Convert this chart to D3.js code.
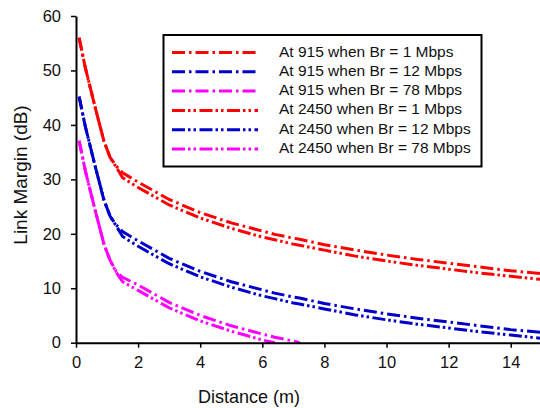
<!DOCTYPE html>
<html>
<head>
<meta charset="utf-8">
<script src="https://cdn.jsdelivr.net/npm/d3@7"></script>
<style>
  body { margin: 0; background: #fff; }
  svg { display: block; font-family: "Liberation Sans", Arial, sans-serif; }
</style>
</head>
<body>
<div id="chart"></div>
<script>
// distance samples (m)
const distance = [0.1, 0.3, 0.6, 0.9, 1.1, 1.3, 1.5, 2, 2.5, 3, 4, 5, 6, 6.4, 7, 7.2, 8, 9, 10, 11, 12, 13, 14, 15];

// link margin (dB)
const lm915br1   = [56, 50.5, 43.6, 37, 34, 32.4, 31.2, 29.5, 27.9, 26.3, 23.9, 22.0, 20.5, 19.9, 19.2, 19.0, 18.0, 17.0, 16.1, 15.3, 14.6, 13.9, 13.2, 12.7];
const lm915br12  = [45.2, 39.7, 32.8, 26.2, 23.2, 21.6, 20.4, 18.7, 17.1, 15.5, 13.1, 11.2, 9.7, 9.1, 8.4, 8.2, 7.2, 6.2, 5.3, 4.5, 3.8, 3.1, 2.4, 1.9];
const lm915br78  = [37.1, 31.6, 24.7, 18.1, 15.1, 13.0, 12.0, 10.6, 9.0, 7.4, 5.0, 3.1, 1.6, 1.0, 0.3, 0.0, null, null, null, null, null, null, null, null];
const lm2450br1  = [56, 50.5, 43.6, 37, 34, 32.2, 30.3, 28.5, 26.9, 25.3, 22.9, 21.0, 19.4, 18.9, 18.1, 17.9, 17.0, 15.9, 15.0, 14.2, 13.5, 12.8, 12.2, 11.6];
const lm2450br12 = [45.2, 39.7, 32.8, 26.2, 23.2, 21.4, 19.5, 17.7, 16.1, 14.5, 12.1, 10.2, 8.6, 8.1, 7.3, 7.1, 6.2, 5.1, 4.2, 3.4, 2.7, 2.0, 1.4, 0.8];
const lm2450br78 = [37.1, 31.6, 24.7, 18.1, 15.1, 12.9, 11.2, 9.6, 8.0, 6.4, 4.0, 2.1, 0.5, 0.0, null, null, null, null, null, null, null, null, null, null];

const xTicks = [0, 2, 4, 6, 8, 10, 12, 14];
const yTicks = [0, 10, 20, 30, 40, 50, 60];

const DASH_DOT = "13,4,2.5,4";
const DASH_DOT_DOT = "13,3,2.5,3,2.5,3.5";

const series = [
    { label: "At 915 when Br = 1 Mbps",   values: lm915br1,   color: "#ff0000", dash: DASH_DOT },
    { label: "At 915 when Br = 12 Mbps",  values: lm915br12,  color: "#0000c8", dash: DASH_DOT },
    { label: "At 915 when Br = 78 Mbps",  values: lm915br78,  color: "#ff00ff", dash: DASH_DOT },
    { label: "At 2450 when Br = 1 Mbps",  values: lm2450br1,  color: "#ff0000", dash: DASH_DOT_DOT },
    { label: "At 2450 when Br = 12 Mbps", values: lm2450br12, color: "#0000c8", dash: DASH_DOT_DOT },
    { label: "At 2450 when Br = 78 Mbps", values: lm2450br78, color: "#ff00ff", dash: DASH_DOT_DOT },
];

const W = 540, H = 408;
const x = d3.scaleLinear().domain([0, 15]).range([76, 541.8]);
const y = d3.scaleLinear().domain([0, 60]).range([342.7, 16]);

const svg = d3.select("#chart").append("svg")
    .attr("width", W).attr("height", H);

svg.append("rect").attr("width", W).attr("height", H).attr("fill", "#fff");

// curves
const line = d3.line()
    .defined(d => d[1] !== null)
    .x(d => x(d[0]))
    .y(d => y(d[1]));

svg.append("g").attr("class", "curves")
  .selectAll("path")
  .data(series)
  .join("path")
    .attr("d", s => line(distance.map((dx, i) => [dx, s.values[i]])))
    .attr("fill", "none")
    .attr("stroke", s => s.color)
    .attr("stroke-width", 3)
    .attr("stroke-dasharray", s => s.dash);

// axes
const axisStyle = sel => {
    sel.select(".domain").attr("stroke", "#000").attr("stroke-width", 2);
    sel.selectAll(".tick line").attr("stroke", "#000").attr("stroke-width", 1.5);
    sel.selectAll("text").attr("fill", "#111").style("font-size", "16.5px")
        .style("font-family", "'Liberation Sans', Arial, sans-serif");
};

svg.append("g")
    .attr("transform", `translate(0,${y(0)})`)
    .call(d3.axisBottom(x).tickValues(xTicks).tickSize(5).tickSizeOuter(0).tickPadding(9))
    .call(axisStyle);

svg.append("g")
    .attr("transform", `translate(${x(0)},0)`)
    .call(d3.axisLeft(y).tickValues(yTicks).tickSize(5).tickSizeOuter(0).tickPadding(10))
    .call(axisStyle);

// axis titles
svg.append("text")
    .attr("x", 249).attr("y", 398)
    .attr("text-anchor", "middle").attr("dominant-baseline", "middle")
    .style("font-size", "18px").attr("fill", "#111")
    .text("Distance (m)");

svg.append("text")
    .attr("transform", "translate(22,175) rotate(-90)")
    .attr("text-anchor", "middle").attr("dominant-baseline", "middle")
    .style("font-size", "19px").attr("fill", "#111")
    .text("Link Margin (dB)");

// legend
const legend = svg.append("g").attr("class", "legend");
legend.append("rect")
    .attr("x", 163.5).attr("y", 35).attr("width", 318).attr("height", 131.5)
    .attr("fill", "#fff").attr("stroke", "#000").attr("stroke-width", 2);

const rowY = i => 52.5 + i * 19.3;
const rows = legend.selectAll(".row").data(series).join("g").attr("class", "row");
rows.append("line")
    .attr("x1", 172).attr("x2", 258)
    .attr("y1", (d, i) => rowY(i)).attr("y2", (d, i) => rowY(i))
    .attr("stroke", d => d.color).attr("stroke-width", 3)
    .attr("stroke-dasharray", d => d.dash);
rows.append("text")
    .attr("x", 279).attr("y", (d, i) => rowY(i))
    .attr("dominant-baseline", "middle")
    .style("font-size", "15.5px").attr("fill", "#111")
    .text(d => d.label);
</script>
</body>
</html>
